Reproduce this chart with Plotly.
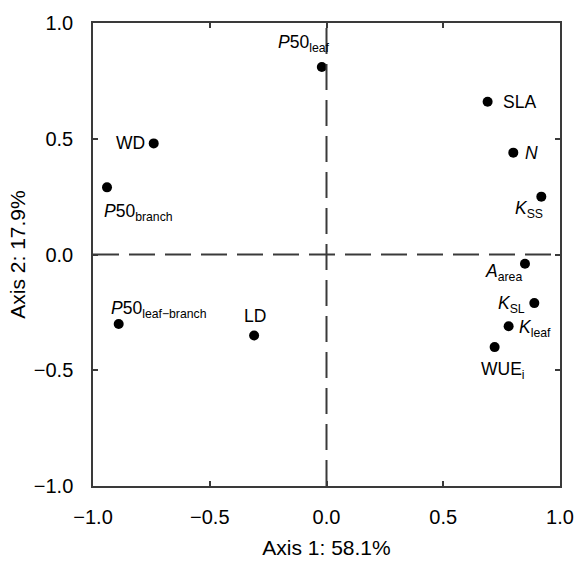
import plotly.graph_objects as go

# ---- data ----
variables = ["P50leaf", "SLA", "N", "KSS", "Aarea", "KSL", "Kleaf", "WUEi",
             "WD", "P50branch", "P50leaf-branch", "LD"]
axis1 = [-0.02, 0.69, 0.80, 0.92, 0.85, 0.89, 0.78, 0.72, -0.74, -0.94, -0.89, -0.31]
axis2 = [0.81, 0.66, 0.44, 0.25, -0.04, -0.21, -0.31, -0.40, 0.48, 0.29, -0.30, -0.35]
labels = ["<i>P</i>50<sub>leaf</sub>", "SLA", "<i>N</i>", "<i>K</i><sub>SS</sub>",
          "<i>A</i><sub>area</sub>", "<i>K</i><sub>SL</sub>", "<i>K</i><sub>leaf</sub>",
          "WUE<sub>i</sub>", "WD", "<i>P</i>50<sub>branch</sub>",
          "<i>P</i>50<sub>leaf\u2212branch</sub>", "LD"]
tick_vals = [-1.0, -0.5, 0.0, 0.5, 1.0]
x_title = "Axis 1: 58.1%"
y_title = "Axis 2: 17.9%"

# ---- label placement (style) ----
label_style = {
    "P50leaf": dict(xanchor="right", xshift=10, yshift=23),
    "SLA": dict(xanchor="left", xshift=13, yshift=0),
    "N": dict(xanchor="left", xshift=10, yshift=0),
    "KSS": dict(xanchor="right", xshift=4, yshift=-13),
    "Aarea": dict(xanchor="right", xshift=-1, yshift=-9),
    "KSL": dict(xanchor="right", xshift=-7, yshift=-1),
    "Kleaf": dict(xanchor="left", xshift=8, yshift=-2),
    "WUEi": dict(xanchor="center", xshift=8, yshift=-23),
    "WD": dict(xanchor="right", xshift=-7, yshift=0),
    "P50branch": dict(xanchor="left", xshift=-5, yshift=-25),
    "P50leaf-branch": dict(xanchor="left", xshift=-10, yshift=14),
    "LD": dict(xanchor="center", xshift=1, yshift=20),
}

FONT = "Liberation Sans, Arial, sans-serif"
LINE = "#3a3a3a"

fig = go.Figure()
fig.add_trace(go.Scatter(
    x=axis1, y=axis2, mode="markers",
    marker=dict(color="black", size=10),
    showlegend=False, hoverinfo="skip",
))

for name, xv, yv, lab in zip(variables, axis1, axis2, labels):
    st = label_style[name]
    fig.add_annotation(x=xv, y=yv, text=lab, showarrow=False,
                       xanchor=st["xanchor"], yanchor="middle",
                       xshift=st["xshift"], yshift=st["yshift"],
                       font=dict(family=FONT, size=17.5, color="black"))

fig.add_vline(x=0, line=dict(color=LINE, width=2, dash="26px,10px"))
fig.add_hline(y=0, line=dict(color=LINE, width=2, dash="26px,10px"))

axis_common = dict(
    range=[-1, 1], tickvals=tick_vals, tickformat=".1f",
    showgrid=False, zeroline=False, automargin=False,
    showline=True, linecolor=LINE, linewidth=1.5, mirror="ticks",
    ticks="inside", ticklen=5, tickwidth=1.5, tickcolor=LINE,
    tickfont=dict(family=FONT, size=20, color="black"),
)

fig.update_xaxes(**axis_common, ticklabelstandoff=12,
                 title=dict(text=x_title, standoff=14,
                            font=dict(family=FONT, size=21, color="black")))
fig.update_yaxes(**axis_common, ticklabelstandoff=14,
                 title=dict(text=y_title, standoff=2,
                            font=dict(family=FONT, size=21, color="black")))

fig.update_layout(
    width=576, height=561,
    margin=dict(l=93, r=16, t=23, b=75),
    plot_bgcolor="white", paper_bgcolor="white",
)

# remove the default page margin so the 576x561 figure fills the window exactly
fig.write_html("out.html",
               config={"displayModeBar": False},
               post_script="document.body.style.margin='0';document.body.style.overflow='hidden';")
